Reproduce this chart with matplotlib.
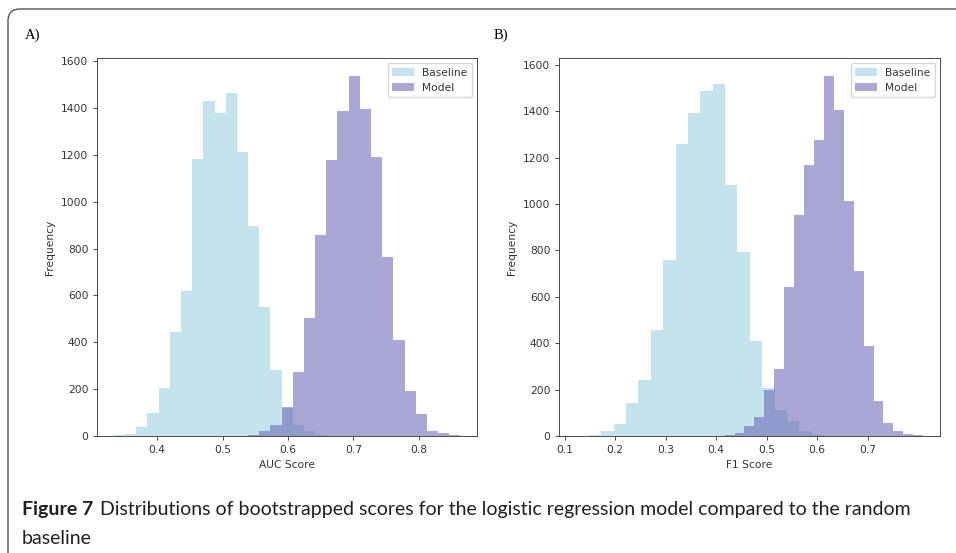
import numpy as np
import matplotlib
matplotlib.use("Agg")
import matplotlib.pyplot as plt
from matplotlib.patches import FancyBboxPatch
from matplotlib.transforms import Affine2D

# --- data (bin start, bin width, counts per bin) ---
auc_base_start, auc_base_width = 0.3339, 0.01709
auc_base_counts = [4, 10, 40, 97, 205, 442, 618, 1181, 1431, 1377,
                   1466, 1213, 896, 550, 280, 120, 49, 20, 5, 2]
auc_model_start, auc_model_width = 0.5219, 0.01709
auc_model_counts = [2, 5, 20, 49, 125, 272, 505, 859, 1177, 1386,
                    1537, 1395, 1191, 764, 411, 191, 94, 23, 12, 5]

f1_base_start, f1_base_width = 0.1237, 0.0245
f1_base_counts = [1, 3, 22, 53, 144, 241, 457, 760, 1261, 1394,
                  1487, 1516, 1081, 793, 411, 205, 112, 65, 22, 5]
f1_model_start, f1_model_width = 0.4168, 0.01964
f1_model_counts = [5, 12, 43, 82, 200, 291, 644, 951, 1167, 1275,
                   1552, 1405, 1013, 710, 389, 151, 55, 22, 9, 5]

auc_ticks = [0.4, 0.5, 0.6, 0.7, 0.8]
f1_ticks = [0.1, 0.2, 0.3, 0.4, 0.5, 0.6, 0.7]
freq_ticks = [0, 200, 400, 600, 800, 1000, 1200, 1400, 1600]

caption_bold = "Figure 7"
caption_line1 = "Distributions of bootstrapped scores for the logistic regression model compared to the random"
caption_line2 = "baseline"

BASE_COLOR = "lightblue"
MODEL_COLOR = "#645fb4"

s = 0.77  # the original figure was scaled down
plt.rcParams.update({
    "font.family": ["DejaVu Sans"],
    "font.size": 10 * s,
    "axes.linewidth": 0.8 * s,
    "axes.edgecolor": "#333333",
    "xtick.major.size": 3.5 * s,
    "ytick.major.size": 3.5 * s,
    "xtick.major.width": 0.8 * s,
    "ytick.major.width": 0.8 * s,
    "xtick.color": "#333333",
    "ytick.color": "#333333",
    "text.color": "#333333",
    "axes.labelcolor": "#333333",
})

W, H = 956, 553
fig = plt.figure(figsize=(W / 100, H / 100), dpi=100)
px = Affine2D().scale(1 / 100) + fig.dpi_scale_trans


def hist_panel(ax, base_start, base_width, base_counts,
               model_start, model_width, model_counts):
    base_edges = base_start + base_width * np.arange(len(base_counts) + 1)
    model_edges = model_start + model_width * np.arange(len(model_counts) + 1)
    ax.hist(base_edges[:-1], bins=base_edges, weights=base_counts,
            color=BASE_COLOR, alpha=0.7, label="Baseline")
    ax.hist(model_edges[:-1], bins=model_edges, weights=model_counts,
            color=MODEL_COLOR, alpha=0.55, label="Model")
    ax.set_ylabel("Frequency")
    ax.set_yticks(freq_ticks)
    ax.legend(loc="upper right")


def axes_px(left, right, top, bottom):
    return fig.add_axes([left / W, 1 - bottom / H, (right - left) / W, (bottom - top) / H])


ax1 = axes_px(97, 477, 58, 436)
hist_panel(ax1, auc_base_start, auc_base_width, auc_base_counts,
           auc_model_start, auc_model_width, auc_model_counts)
ax1.set_xlabel("AUC Score")
ax1.set_xticks(auc_ticks)
ax1.set_xlim(0.308, 0.889)

ax2 = axes_px(559, 940, 58, 436)
hist_panel(ax2, f1_base_start, f1_base_width, f1_base_counts,
           f1_model_start, f1_model_width, f1_model_counts)
ax2.set_xlabel("F1 Score")
ax2.set_xticks(f1_ticks)
ax2.set_xlim(0.089, 0.843)

# panel letters
fig.text(25 / W, 1 - 35 / H, "A)", family="Liberation Serif", fontsize=10.5,
         color="black", va="center")
fig.text(494 / W, 1 - 35 / H, "B)", family="Liberation Serif", fontsize=10.5,
         color="black", va="center")

# rounded frame round the figure
frame = FancyBboxPatch((8, -60), 1100, H - 9 + 60, boxstyle="round,pad=0,rounding_size=12",
                       transform=px, fill=False, linewidth=1.0, edgecolor="#555555")
fig.add_artist(frame)

# caption
cap_font = ["Lato", "DejaVu Sans"]
t_bold = fig.text(22 / W, 1 - 509 / H, caption_bold, family=cap_font, fontsize=14,
                  weight="bold", color="#231f20", va="center")
fig.canvas.draw()
bb = t_bold.get_window_extent(fig.canvas.get_renderer())
fig.text((bb.x1 + 7) / W, 1 - 509 / H, caption_line1, family=cap_font, fontsize=14,
         color="#231f20", va="center")
fig.text(22 / W, 1 - 539 / H, caption_line2, family=cap_font, fontsize=14,
         color="#231f20", va="center")

fig.savefig("out.png", dpi=100)
